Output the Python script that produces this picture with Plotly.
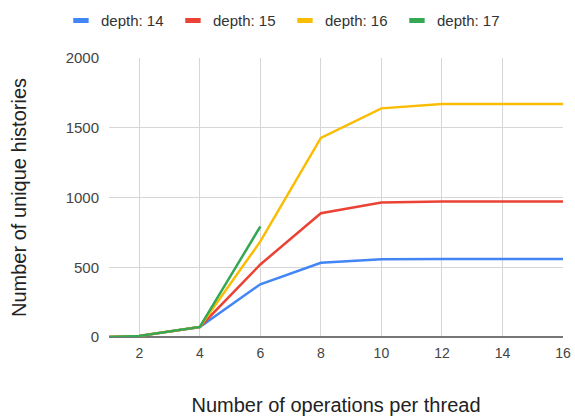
import plotly.graph_objects as go

# Operations per thread (x) and unique history counts per search depth
ops = [1, 2, 4, 6, 8, 10, 12, 14, 16]
depth14 = [0, 8, 72, 378, 532, 558, 560, 560, 560]
depth15 = [0, 8, 72, 520, 887, 964, 972, 972, 972]
depth16 = [0, 8, 72, 685, 1427, 1639, 1670, 1670, 1670]
ops17 = [1, 2, 4, 6]
depth17 = [0, 8, 72, 792]

names = ["depth: 14", "depth: 15", "depth: 16", "depth: 17"]
colors = ["#4285F4", "#EA4335", "#FBBC04", "#34A853"]
xs = [ops, ops, ops, ops17]
ys = [depth14, depth15, depth16, depth17]

FONT = "Liberation Sans, Arial, sans-serif"

fig = go.Figure()
for name, color, x, y in zip(names, colors, xs, ys):
    fig.add_trace(go.Scatter(x=x, y=y, mode="lines", name=name,
                             line=dict(color=color, width=2.5),
                             showlegend=False, legendgroup=name))
    # short thick bar used as the legend key
    fig.add_trace(go.Scatter(x=[None], y=[None], mode="markers", name=name,
                             legendgroup=name, hoverinfo="skip",
                             marker=dict(symbol="line-ew", size=11,
                                         line=dict(color=color, width=5))))

fig.update_layout(
    width=575, height=416,
    margin=dict(l=109, r=12, t=58, b=79),
    paper_bgcolor="white", plot_bgcolor="white",
    font=dict(family=FONT, size=14, color="#444"),
    legend=dict(orientation="h", xref="container", x=0.106, xanchor="left",
                yref="container", y=0.99, yanchor="top",
                entrywidth=67,
                font=dict(family=FONT, size=15, color="#333"), itemwidth=30),
    xaxis=dict(range=[1, 16], tick0=2, dtick=2, showgrid=True,
               gridcolor="#d6d6d6", gridwidth=1, zeroline=False,
               ticks="", ticklabelstandoff=6, automargin=False,
               tickfont=dict(family=FONT, size=14, color="#444"),
               title=dict(text="Number of operations per thread",
                          font=dict(family=FONT, size=20, color="#222"),
                          standoff=44)),
    yaxis=dict(range=[0, 2000], tickvals=[0, 500, 1000, 1500, 2000],
               showgrid=True, gridcolor="#d6d6d6", gridwidth=1,
               zeroline=True, zerolinecolor="#777", zerolinewidth=2,
               ticks="", ticklabelstandoff=9, automargin=False,
               tickfont=dict(family=FONT, size=15, color="#444"),
               title=dict(text="Number of unique histories",
                          font=dict(family=FONT, size=20, color="#222"),
                          standoff=33)),
)

fig.write_html("out.html")
